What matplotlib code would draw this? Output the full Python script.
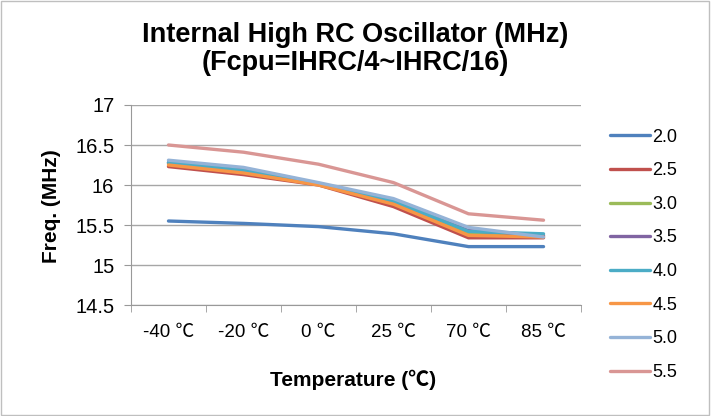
import numpy as np
import matplotlib.pyplot as plt
from matplotlib.patches import Rectangle

# temperature categories
temps = ["-40 \u2103", "-20 \u2103", "0 \u2103", "25 \u2103", "70 \u2103", "85 \u2103"]

# frequency (MHz) per supply voltage
v20 = [15.55, 15.52, 15.48, 15.39, 15.23, 15.23]
v25 = [16.23, 16.13, 16.00, 15.73, 15.34, 15.34]
v30 = [16.27, 16.17, 16.01, 15.78, 15.40, 15.36]
v35 = [16.28, 16.19, 16.02, 15.80, 15.43, 15.37]
v40 = [16.28, 16.18, 16.02, 15.80, 15.42, 15.39]
v45 = [16.25, 16.15, 16.00, 15.76, 15.37, 15.35]
v50 = [16.31, 16.22, 16.03, 15.83, 15.47, 15.35]
v55 = [16.50, 16.41, 16.26, 16.03, 15.64, 15.56]

labels = ["2.0", "2.5", "3.0", "3.5", "4.0", "4.5", "5.0", "5.5"]
series = [v20, v25, v30, v35, v40, v45, v50, v55]
colors = ["#4F81BD", "#C0504D", "#9BBB59", "#8064A2",
          "#4BACC6", "#F79646", "#95B3D7", "#D99694"]

fam = ["Liberation Sans", "Noto Sans CJK SC", "DejaVu Sans"]
plt.rcParams['font.family'] = fam

fig = plt.figure(figsize=(7.11, 4.16), dpi=100)
ax = fig.add_axes([0.1842, 0.2668, 0.6330, 0.4808])

x = np.arange(len(temps))
for vals, lab, col in zip(series, labels, colors):
    ax.plot(x, vals, color=col, lw=2.4, label=lab, solid_capstyle='round')

ax.set_xlim(-0.5, len(temps) - 0.5)
ax.set_ylim(14.5, 17)
ax.set_yticks([14.5, 15, 15.5, 16, 16.5, 17])
ax.set_yticklabels(["14.5", "15", "15.5", "16", "16.5", "17"], fontsize=14.5)
ax.set_xticks(x)
ax.set_xticklabels(temps, fontsize=13.5)
ax.set_xticks(np.arange(len(temps) + 1) - 0.5, minor=True)
ax.tick_params(axis='x', which='major', length=0, pad=14)
ax.tick_params(axis='x', which='minor', length=5, color='#999999')
ax.tick_params(axis='y', length=5, color='#999999', pad=7)

ax.grid(axis='y', color='#A6A6A6', lw=1)
ax.set_axisbelow(True)
for s in ['top', 'right']:
    ax.spines[s].set_visible(False)
for s in ['left', 'bottom']:
    ax.spines[s].set_color('#999999')

fig.text(0.497, 0.087, "Temperature (\u2103)", ha='center', va='center',
         fontsize=15, fontweight='bold')
fig.text(0.072, 0.505, "Freq. (MHz)", ha='center', va='center', rotation=90,
         fontsize=15, fontweight='bold')
fig.text(0.5, 0.883, "Internal High RC Oscillator (MHz)\n(Fcpu=IHRC/4~IHRC/16)",
         ha='center', va='center', fontsize=19.5, fontweight='bold', linespacing=1.1)

ax.legend(loc='upper left', bbox_to_anchor=(1.064, 0.882), frameon=False,
          fontsize=13, handlelength=2.2, handletextpad=0.15, labelspacing=0.92,
          borderpad=0, borderaxespad=0)

fig.patches.append(Rectangle((0.002, 0.003), 0.995, 0.994, transform=fig.transFigure,
                             fill=False, edgecolor='#BFBFBF', lw=1))

fig.savefig("out.png", dpi=100)
